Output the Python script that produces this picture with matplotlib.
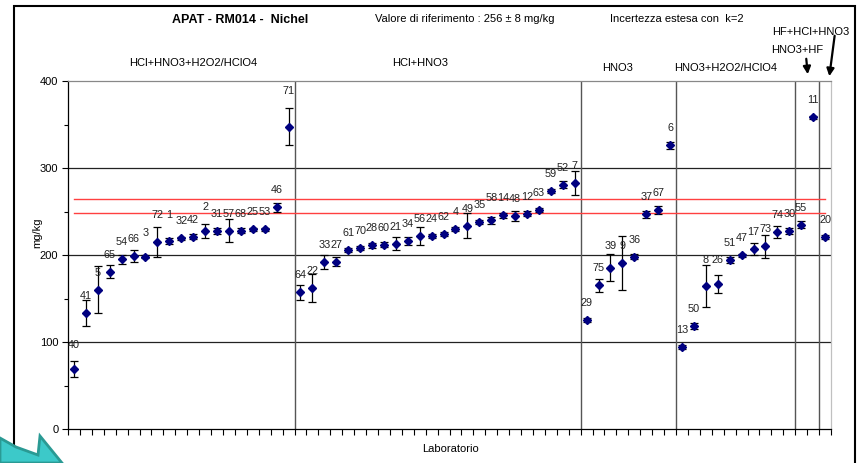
import matplotlib
matplotlib.use('Agg')
import matplotlib.pyplot as plt
from matplotlib.patches import Rectangle, Polygon, FancyArrowPatch
from matplotlib.ticker import MultipleLocator
import numpy as np

plt.rcParams['font.family'] = ['Liberation Sans', 'DejaVu Sans']

# ---------------- data ----------------
labs_g1 = ["40", "41", "5", "65", "54", "66", "3", "72", "1", "32", "42", "2", "31", "57", "68", "25", "53", "46", "71"]
vals_g1 = [69, 133, 160, 181, 195, 199, 198, 215, 216, 219, 221, 227.6, 227.6, 228, 228, 229.5, 229.5, 255, 347.5]
unc_g1 = [9.5, 15, 27, 7, 5, 7, 2, 17, 3, 2, 3, 8.5, 4, 13, 3, 2, 2, 5, 21]

labs_g2 = ["64", "22", "33", "27", "61", "70", "28", "60", "21", "34", "56", "24", "62", "4", "49", "35", "58", "14", "48", "12", "63", "59", "52", "7"]
vals_g2 = [157, 162, 192, 192.5, 205.7, 208, 211, 212, 213, 216.5, 222, 222, 224, 230, 233.7, 238, 240, 245.6, 245, 247.5, 252, 273.6, 281, 282.4]
unc_g2 = [8.5, 16, 8.5, 5.5, 2, 2.5, 2.5, 2.5, 7.5, 4.5, 10, 2.5, 2, 2.5, 14.5, 2.5, 4, 2.5, 6, 3, 2, 2, 4.5, 14]

labs_g3 = ["29", "75", "39", "9", "36", "37", "67", "6"]
vals_g3 = [125.3, 165, 185.4, 190.8, 198, 246.7, 251.7, 326]
unc_g3 = [2, 7.5, 15.7, 31, 3, 4, 4.3, 4]

labs_g4 = ["13", "50", "8", "26", "51", "47", "17", "73", "74", "30"]
vals_g4 = [94.3, 118.4, 164.8, 167, 194, 199.6, 206.9, 210, 226.4, 227.6]
unc_g4 = [2, 4, 24, 10.5, 3.5, 2, 7.3, 13, 6.5, 3.8]

labs_g5 = ["55", "11"]
vals_g5 = [234.9, 358.2]
unc_g5 = [4.3, 2]

labs_g6 = ["20"]
vals_g6 = [220.7]
unc_g6 = [2]

group_names = ["HCl+HNO3+H2O2/HClO4", "HCl+HNO3", "HNO3", "HNO3+H2O2/HClO4", "HNO3+HF", "HF+HCl+HNO3"]

ref_value = 256
ref_unc = 8

title = "APAT - RM014 -  Nichel"
ref_text = "Valore di riferimento : 256 \u00b1 8 mg/kg"
k_text = "Incertezza estesa con  k=2"

# ---------------- assemble ----------------
groups_labs = [labs_g1, labs_g2, labs_g3, labs_g4, labs_g5, labs_g6]
groups_vals = [vals_g1, vals_g2, vals_g3, vals_g4, vals_g5, vals_g6]
groups_unc = [unc_g1, unc_g2, unc_g3, unc_g4, unc_g5, unc_g6]

labs = sum(groups_labs, [])
vals = np.array(sum(groups_vals, []), dtype=float)
unc = np.array(sum(groups_unc, []), dtype=float)
n = len(labs)
x = np.arange(n)
sizes = [len(g) for g in groups_labs]
bounds = np.cumsum(sizes)[:-1] - 0.5

W, H = 861, 463
fig = plt.figure(figsize=(W / 100, H / 100), dpi=100)


def fx(px):
    return px / W


def fy(py):
    return 1 - py / H


ax = fig.add_axes([fx(68), fy(429), fx(831) - fx(68), fy(81) - fy(429)])

# grid lines
for gy in (100, 200, 300):
    ax.axhline(gy, color='#222222', lw=0.9, zorder=1)
for b in bounds:
    ax.axvline(b, color='#555555', lw=1.0, zorder=1)

# reference band lines
ax.plot([x[0], x[-1]], [ref_value + ref_unc] * 2, color='#ff4040', lw=1.0, zorder=2)
ax.plot([x[0], x[-1]], [ref_value - ref_unc] * 2, color='#ff4040', lw=1.0, zorder=2)

ax.errorbar(x, vals, yerr=unc, fmt='none', ecolor='black', elinewidth=0.9,
            capsize=3.2, capthick=0.9, zorder=3)
ax.plot(x, vals, linestyle='none', marker='D', markersize=4.2,
        markerfacecolor='#000080', markeredgecolor='#000080', zorder=4)

extra_dy = {"71": 36, "40": 24, "72": 27, "1": 26, "3": 24, "2": 24, "8": 26,
            "26": 24, "39": 22, "58": 22}
for xi, v, lab in zip(x, vals, labs):
    dy = extra_dy.get(lab, 17)
    ax.annotate(lab, (xi, v), xytext=(0, dy * 0.72), textcoords='offset points',
                ha='center', va='center', fontsize=7.8, color='#222222', zorder=5)

ax.set_xlim(-0.5, n - 0.5)
ax.set_ylim(0, 400)
ax.set_xticks(np.arange(-0.5, n, 1.0))
ax.set_xticklabels([])
ax.tick_params(axis='x', direction='out', length=4, width=0.8, color='black')
ax.yaxis.set_major_locator(MultipleLocator(100))
ax.yaxis.set_minor_locator(MultipleLocator(50))
ax.tick_params(axis='y', which='major', direction='out', length=4, width=0.8, labelsize=8, pad=3)
ax.tick_params(axis='y', which='minor', direction='out', length=3, width=0.8)

ax.spines['left'].set_color('black')
ax.spines['bottom'].set_color('black')
ax.spines['top'].set_color('#888888')
ax.spines['right'].set_color('#c0c0c0')
for s in ax.spines.values():
    s.set_linewidth(0.9)

fig.text(fx(37), fy(233), "mg/kg", rotation=90, ha='center', va='center', fontsize=8)
fig.text(fx(450), fy(449), "Laboratorio", ha='center', va='center', fontsize=8)

# header texts
fig.text(fx(240), fy(20), title, ha='center', va='center', fontsize=9, fontweight='bold')
fig.text(fx(375), fy(19), ref_text, ha='left', va='center', fontsize=8)
fig.text(fx(610), fy(19), k_text, ha='left', va='center', fontsize=8)

# group labels
gl_pos = [(193, 63), (420, 63), (618, 68), (726, 68), (797, 50), (811, 32)]
for name, (px, py) in zip(group_names, gl_pos):
    fig.text(fx(px), fy(py), name, ha='center', va='center', fontsize=8)

# arrows
for (x0, y0), (x1, y1) in [((806, 56), (808, 77)), ((835, 33), (829, 79))]:
    fig.add_artist(FancyArrowPatch((fx(x0), fy(y0)), (fx(x1), fy(y1)), transform=fig.transFigure,
                                   arrowstyle='-|>', mutation_scale=11, lw=1.6, color='black'))

# frame of the slide
fig.add_artist(Rectangle((fx(14), fy(480)), fx(855) - fx(14), fy(6) - fy(480), transform=fig.transFigure,
                         fill=False, edgecolor='black', lw=1.5))

# corner decoration
fig.add_artist(Polygon([(fx(0), fy(438)), (fx(16), fy(447)), (fx(38), fy(455)), (fx(40), fy(436)),
                        (fx(62), fy(463)), (fx(0), fy(463))], closed=True, transform=fig.transFigure,
                       facecolor='#3cc9c9', edgecolor='#2a9a94', lw=2))

fig.savefig('out.png', dpi=100)
